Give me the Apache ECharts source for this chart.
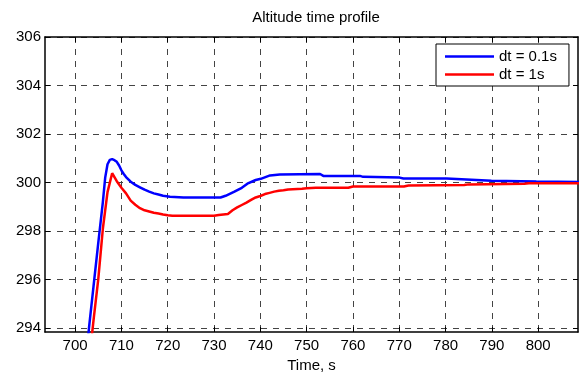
<!DOCTYPE html>
<html>
<head>
<meta charset="utf-8">
<script src="https://cdn.jsdelivr.net/npm/echarts@6/dist/echarts.min.js"></script>
<style>html,body{margin:0;padding:0;background:#fff}#c{width:579px;height:378px}</style>
</head>
<body>
<div id="c"></div>
<script>
// dt = 0.1s
const timeBlue = [702.5, 703, 704, 705, 706, 706.5, 707, 707.5, 708, 708.5, 709, 709.5, 710, 710.5, 711, 712, 713, 714, 715, 716, 717, 718, 719, 720.5, 723.4, 731.4, 732.5, 734.3, 736, 737.2, 739, 740.1, 742.1, 744.2, 752.9, 753.6, 761.5, 762.2, 770.1, 770.9, 780.2, 780.6, 789.9, 790.1, 799.6, 800, 810];
const altBlue  = [293.0, 294.0, 295.75, 297.5, 299.2, 300.2, 300.75, 300.93, 300.96, 300.92, 300.85, 300.7, 300.5, 300.35, 300.22, 300.03, 299.9, 299.8, 299.7, 299.62, 299.55, 299.5, 299.45, 299.41, 299.38, 299.38, 299.45, 299.61, 299.78, 299.95, 300.1, 300.15, 300.29, 300.33, 300.35, 300.27, 300.27, 300.23, 300.2, 300.16, 300.16, 300.1, 300.07, 300.04, 300.04, 300.02, 300.02];
// dt = 1s
const timeRed = [703, 704, 705, 706, 707, 708, 709, 710, 711, 712, 713, 714, 715, 716, 717, 718, 719, 720, 721, 730, 731, 732, 733, 734, 735, 736, 737, 738, 739, 740, 741, 742, 743, 744, 745, 746, 747, 749, 750, 752, 759, 760, 771, 772, 784, 785, 797, 798, 810];
const altRed  = [292.6, 294.35, 296.0, 298.1, 299.6, 300.38, 300.05, 299.78, 299.55, 299.25, 299.08, 298.94, 298.85, 298.8, 298.75, 298.72, 298.68, 298.65, 298.63, 298.63, 298.66, 298.68, 298.7, 298.85, 298.97, 299.07, 299.17, 299.28, 299.38, 299.44, 299.52, 299.57, 299.62, 299.66, 299.68, 299.71, 299.72, 299.74, 299.76, 299.78, 299.78, 299.83, 299.83, 299.87, 299.89, 299.92, 299.95, 299.97, 299.97];
const xTicks = [700, 710, 720, 730, 740, 750, 760, 770, 780, 790, 800];
const yTicks = [294, 296, 298, 300, 302, 304, 306];
const seriesNames = ['dt = 0.1s', 'dt = 1s'];

const FONT = 'Liberation Sans, Arial, sans-serif';
const FS = 15;
const chart = echarts.init(document.getElementById('c'), null, {renderer: 'canvas'});
const gridStyle = {show: true, lineStyle: {color: '#444', width: 1, type: [6, 6]}};
const baseX = {
  type: 'value', min: 693.5, max: 808.6,
  axisLine: {show: true, onZero: false, lineStyle: {color: '#000', width: 1.5}},
  axisTick: {show: true, inside: true, length: 5, customValues: xTicks, lineStyle: {color: '#000'}},
  axisLabel: {show: true, customValues: xTicks, color: '#000', fontSize: FS, fontFamily: FONT, margin: 6},
  splitLine: {show: false}
};
const baseY = {
  type: 'value', min: 293.83, max: 306,
  axisLine: {show: true, onZero: false, lineStyle: {color: '#000', width: 1.5}},
  axisTick: {show: true, inside: true, length: 5, customValues: yTicks, lineStyle: {color: '#000'}},
  axisLabel: {show: true, customValues: yTicks, color: '#000', fontSize: FS, fontFamily: FONT, margin: 4},
  splitLine: {show: false}
};
chart.setOption({
  animation: false,
  backgroundColor: '#fff',
  title: {text: 'Altitude time profile', left: 311, top: 5, textAlign: 'center',
    textStyle: {fontSize: FS, fontWeight: 'normal', color: '#000', fontFamily: FONT}},
  grid: {left: 45, right: 1, top: 37, bottom: 40, containLabel: false},
  legend: {
    data: seriesNames, orient: 'vertical', left: 436, top: 44,
    backgroundColor: '#fff', borderColor: '#000', borderWidth: 1,
    padding: [5, 12, 4, 9], itemGap: 3, itemWidth: 49, itemHeight: 2.5, icon: 'rect',
    textStyle: {fontSize: FS, color: '#000', fontFamily: FONT}
  },
  xAxis: [
    Object.assign({}, baseX, {position: 'bottom', name: 'Time, s', nameLocation: 'middle', nameGap: 26,
      nameTextStyle: {fontSize: FS, color: '#000', fontFamily: FONT},
      splitLine: gridStyle}),
    Object.assign({}, baseX, {position: 'top', axisLabel: {show: false, customValues: xTicks}})
  ],
  yAxis: [
    Object.assign({}, baseY, {position: 'left', splitLine: gridStyle}),
    Object.assign({}, baseY, {position: 'right', axisLabel: {show: false, customValues: yTicks}})
  ],
  series: [
    {name: seriesNames[0], type: 'line', showSymbol: false, symbol: 'none', color: '#0000ff',
      lineStyle: {color: '#0000ff', width: 2.5}, clip: true,
      data: timeBlue.map((t, i) => [t, altBlue[i]])},
    {name: seriesNames[1], type: 'line', showSymbol: false, symbol: 'none', color: '#ff0000',
      lineStyle: {color: '#ff0000', width: 2.5}, clip: true,
      data: timeRed.map((t, i) => [t, altRed[i]])}
  ]
});
</script>
</body>
</html>
